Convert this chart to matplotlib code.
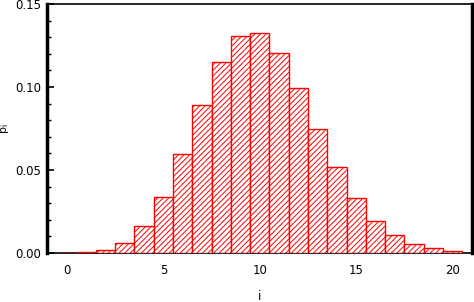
import matplotlib
matplotlib.use("Agg")
import matplotlib.pyplot as plt
from matplotlib.ticker import MultipleLocator

i_vals = list(range(0, 21))
p_vals = [0.0002, 0.0006, 0.0018, 0.0058, 0.0163, 0.0335, 0.0594, 0.0890,
          0.1150, 0.1305, 0.1323, 0.1203, 0.0992, 0.0745, 0.0516, 0.0330,
          0.0193, 0.0107, 0.0052, 0.0028, 0.0010]
x_ticks = [0, 5, 10, 15, 20]
y_ticks = [0.00, 0.05, 0.10, 0.15]
y_ticklabels = ["0.00", "0.05", "0.10", "0.15"]

plt.rcParams['hatch.color'] = 'red'
plt.rcParams['hatch.linewidth'] = 0.7

fig = plt.figure(figsize=(4.74, 3.02), dpi=100)
ax = fig.add_axes([47/474, 49/302, 425/474, 249/302])

ax.bar(i_vals, p_vals, width=1.0, facecolor='white', edgecolor='red',
       linewidth=1.0, hatch='//////', zorder=3)

ax.set_xlim(-1.03, 21.0)
ax.set_ylim(0, 0.15)
ax.set_xticks(x_ticks)
ax.set_yticks(y_ticks)
ax.set_yticklabels(y_ticklabels)
ax.yaxis.set_minor_locator(MultipleLocator(0.01))
ax.tick_params(axis='x', length=0, labelsize=8.5, pad=8)
ax.tick_params(axis='y', which='major', direction='in', length=5, width=1.2, labelsize=8.5, pad=4)
ax.tick_params(axis='y', which='minor', direction='in', length=3, width=1.0)

ax.spines['left'].set_linewidth(2.5)
ax.spines['right'].set_linewidth(2.5)
ax.spines['top'].set_linewidth(1.2)
ax.spines['bottom'].set_linewidth(1.2)
ax.spines['bottom'].set_zorder(2)

ax.set_xlabel('i', fontsize=8.5, labelpad=9)
ax.set_ylabel(r'$\mathregular{p_i}$', fontsize=8)
ax.yaxis.set_label_coords(-0.085, 0.5)

fig.savefig('out.png', dpi=100)
